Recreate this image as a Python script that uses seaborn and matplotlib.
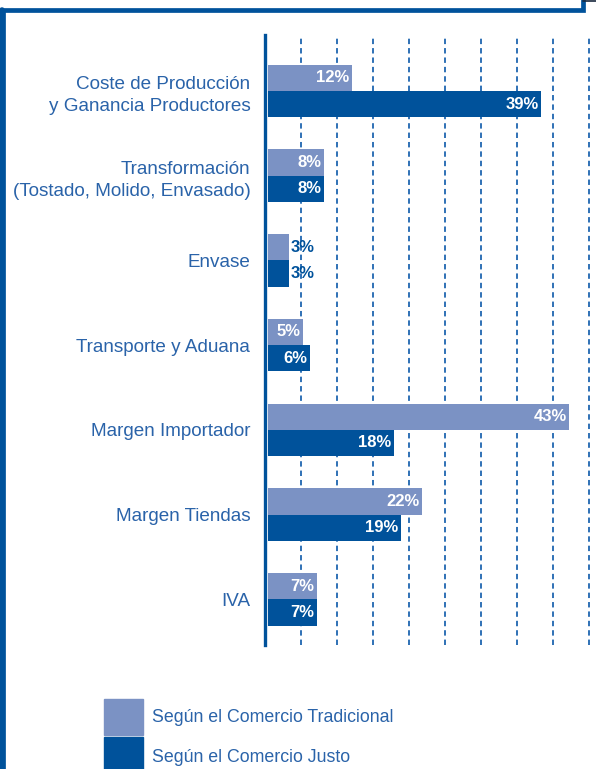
import matplotlib
matplotlib.use("Agg")
import matplotlib.pyplot as plt
from matplotlib.lines import Line2D
from matplotlib.patches import Rectangle
import seaborn as sns
import pandas as pd

# datos
categorias = ["Coste de Producción\ny Ganancia Productores",
              "Transformación\n(Tostado, Molido, Envasado)",
              "Envase",
              "Transporte y Aduana",
              "Margen Importador",
              "Margen Tiendas",
              "IVA"]
tradicional = [12, 8, 3, 5, 43, 22, 7]
justo = [39, 8, 3, 6, 18, 19, 7]
series = ["Según el Comercio Tradicional", "Según el Comercio Justo"]

df = pd.DataFrame({
    "categoria": categorias * 2,
    "valor": tradicional + justo,
    "serie": [series[0]] * len(categorias) + [series[1]] * len(categorias),
})

claro = "#7b92c4"
oscuro = "#00529b"
texto = "#2a63a9"

sns.set_style("white")
plt.rcParams['font.family'] = ['Liberation Sans', 'DejaVu Sans']

fig = plt.figure(figsize=(5.96, 7.69), dpi=100)
ax = fig.add_axes([268 / 596, 1 - 645 / 769, 1 - 268 / 596, (645 - 35) / 769])

sns.barplot(data=df, x="valor", y="categoria", hue="serie", orient="h",
            palette=[claro, oscuro], width=0.62, saturation=1, ax=ax,
            legend=False, linewidth=0, edgecolor="none")

escala = 7.0  # px por unidad
ax.set_xlim(0, 328 / escala)
ax.set_ylim(6.54, -0.66)

# lineas de guia discontinuas (cada 36 px como en el original)
for k in range(9):
    ax.axvline((33 + 36 * k) / escala, color="#1f66b0", lw=1.3,
               ls=(0, (3.0, 2.2)), zorder=0)

for s in ["top", "right", "bottom"]:
    ax.spines[s].set_visible(False)
ax.spines["left"].set_color(oscuro)
ax.spines["left"].set_linewidth(2.4)
ax.spines["left"].set_position(("outward", 2.2))

ax.set_xticks([])
ax.set_xlabel("")
ax.set_ylabel("")
ax.tick_params(axis="y", length=0, pad=10.5, labelsize=13.6, labelcolor=texto)
for lab in ax.get_yticklabels():
    lab.set_linespacing(1.42)

# etiquetas de valores
for cont in ax.containers:
    for bar in cont:
        w = bar.get_width()
        yc = bar.get_y() + bar.get_height() / 2
        if w <= 3:
            ax.text(w + 0.3, yc, f"{w:.0f}%", ha="left", va="center",
                    color=oscuro, fontsize=12, fontweight="bold")
        else:
            ax.text(w - 0.35, yc, f"{w:.0f}%", ha="right", va="center",
                    color="white", fontsize=12, fontweight="bold")

# marco
fig.add_artist(Line2D([2.5 / 596, 2.5 / 596, 583 / 596, 583 / 596],
                      [0, 1 - 10 / 769, 1 - 10 / 769, 1],
                      transform=fig.transFigure, color=oscuro, lw=3.4,
                      solid_joinstyle="miter"))
fig.add_artist(Line2D([2.2 / 596, 2.2 / 596], [0, 1 - 10 / 769],
                      transform=fig.transFigure, color=oscuro, lw=4.0))
fig.add_artist(Line2D([583 / 596, 1], [1 - 0.8 / 769, 1 - 0.8 / 769],
                      transform=fig.transFigure, color="#1a2a40", lw=1.2))

# leyenda
fig.add_artist(Rectangle((104 / 596, 1 - 735 / 769), 39 / 596, 36 / 769,
                         transform=fig.transFigure, color=claro))
fig.add_artist(Rectangle((104 / 596, 0), 39 / 596, 32 / 769,
                         transform=fig.transFigure, color=oscuro))
fig.text(152 / 596, 1 - 717 / 769, series[0], ha="left", va="center",
         fontsize=12.8, color=texto)
fig.text(152 / 596, 1 - 757 / 769, series[1], ha="left", va="center",
         fontsize=12.8, color=texto)

fig.savefig("out.png", dpi=100)
